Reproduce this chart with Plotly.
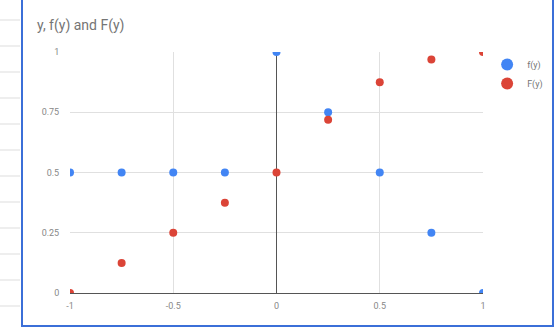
import plotly.graph_objects as go

y_vals = [-1, -0.75, -0.5, -0.25, 0, 0.25, 0.5, 0.75, 1]
f_vals = [0.5, 0.5, 0.5, 0.5, 1.0, 0.75, 0.5, 0.25, 0.0]
F_vals = [0.0, 0.125, 0.25, 0.375, 0.5, 0.71875, 0.875, 0.96875, 1.0]

x_ticks = [-1, -0.5, 0, 0.5, 1]
x_ticktext = ["-1", "-0.5", "0", "0.5", "1"]
y_ticks = [0, 0.25, 0.5, 0.75, 1]
y_ticktext = ["0", "0.25", "0.5", "0.75", "1"]

fig = go.Figure()
fig.add_trace(go.Scatter(x=y_vals, y=f_vals, mode="markers", name="f(y)",
                         marker=dict(color="#4285F4", size=8)))
fig.add_trace(go.Scatter(x=y_vals, y=F_vals, mode="markers", name="F(y)",
                         marker=dict(color="#DB4437", size=8)))

# spreadsheet background lines (outside the chart)
shapes = []
for yy in [20, 46, 72, 98, 124, 150, 176, 202, 228, 254, 280, 306]:
    shapes.append(dict(type="line", xref="paper", yref="paper",
                       x0=-70/413, x1=-50/413, y0=(293-yy)/241, y1=(293-yy)/241,
                       line=dict(color="#dddddd", width=1), layer="below"))
# chart border (blue)
shapes.append(dict(type="rect", xref="paper", yref="paper",
                   x0=(22-70)/413, x1=(553-70)/413, y0=(293-326)/241, y1=(293-(-2))/241,
                   line=dict(color="#3b6fd8", width=2), fillcolor="rgba(0,0,0,0)"))

fig.update_layout(
    width=560, height=335,
    margin=dict(l=70, r=77, t=52, b=42, autoexpand=False),
    paper_bgcolor="white", plot_bgcolor="white",
    font=dict(family="Roboto, Arial, sans-serif", color="#757575", size=10),
    title=dict(text="y, f(y) and F(y)", x=37/560, xanchor="left", y=1-25/335, yanchor="middle",
               font=dict(size=14, color="#757575")),
    xaxis=dict(range=[-1, 1], tickvals=x_ticks, ticktext=x_ticktext,
               showgrid=True, gridcolor="#e0e0e0", zeroline=True, zerolinecolor="#555555",
               zerolinewidth=1, showline=False, ticks="outside", ticklen=4, tickcolor="rgba(0,0,0,0)",
               tickfont=dict(size=9, color="#888888")),
    yaxis=dict(range=[0, 1], tickvals=y_ticks, ticktext=y_ticktext,
               showgrid=True, gridcolor="#e0e0e0", zeroline=True, zerolinecolor="#555555",
               zerolinewidth=1, showline=False, ticks="outside", ticklen=8, tickcolor="rgba(0,0,0,0)",
               tickfont=dict(size=9, color="#888888")),
    legend=dict(x=1.01, y=1.0 + 2/241, xanchor="left", yanchor="top",
                font=dict(size=9, color="#757575"), bgcolor="rgba(0,0,0,0)",
                itemsizing="constant", itemwidth=30, tracegroupgap=4),
    shapes=shapes,
)

fig.write_html("out.html")
